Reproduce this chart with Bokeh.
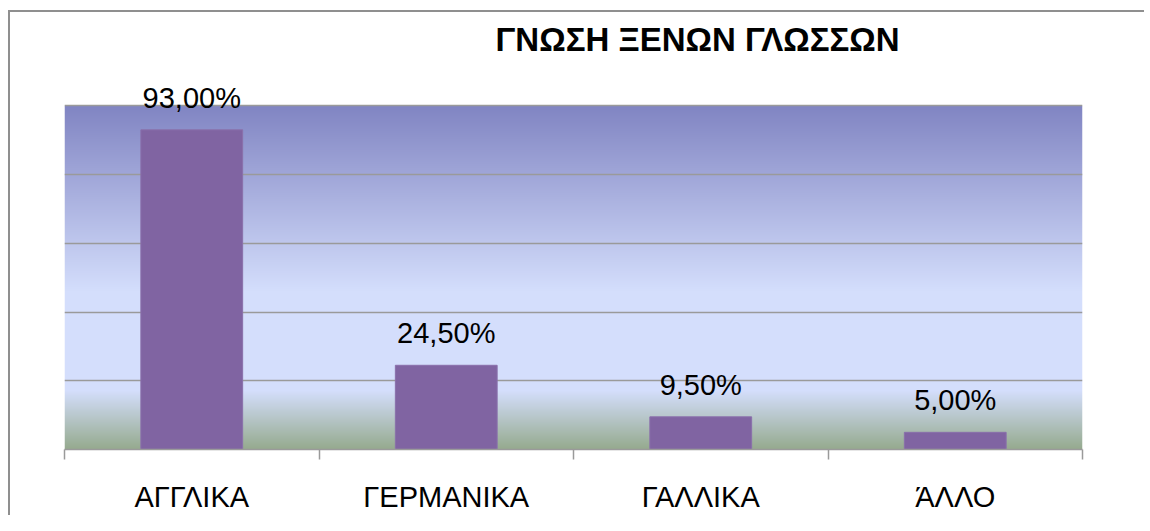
import numpy as np
from bokeh.plotting import figure
from bokeh.models import ColumnDataSource, FixedTicker, Range1d, LabelSet
from bokeh.core.properties import value
from bokeh.embed import file_html
from bokeh.resources import INLINE

# ---- data ----
categories = ["ΑΓΓΛΙΚΑ", "ΓΕΡΜΑΝΙΚΑ", "ΓΑΛΛΙΚΑ", "ΆΛΛΟ"]
values = [93.0, 24.5, 9.5, 5.0]
y_ticks = [0, 20, 40, 60, 80, 100]
title_text = "ΓΝΩΣΗ ΞΕΝΩΝ ΓΛΩΣΣΩΝ"

centers = [i + 0.5 for i in range(len(categories))]
bounds = list(range(len(categories) + 1))
labels = [f"{v:.2f}".replace(".", ",") + "%" for v in values]

src = ColumnDataSource(dict(x=centers, top=values, label=labels))

p = figure(width=1136, height=505, output_backend="svg", toolbar_location=None,
           x_range=Range1d(0, len(categories)), y_range=Range1d(0, 112),
           min_border_left=54, min_border_right=64, min_border_top=10, min_border_bottom=68)
p.styles = {"box-shadow": "-2px -2px 0px 0px #8f8f8f", "background-color": "#ffffff",
            "margin-left": "10px", "margin-top": "12px"}

# gradient background of the plot area (styling)
stops_v = [0, 17, 46, 100]
stops_c = np.array([[0x95, 0xaa, 0x8e], [0xd4, 0xde, 0xfc], [0xd4, 0xde, 0xfc], [0x80, 0x84, 0xc2]], dtype=float)
N = 345
ys = (np.arange(N) + 0.5) / N * 100
img = np.empty((N, 1), dtype=np.uint32)
view = img.view(dtype=np.uint8).reshape((N, 1, 4))
for k in range(3):
    view[:, 0, k] = np.interp(ys, stops_v, stops_c[:, k]).round().astype(np.uint8)
view[:, 0, 3] = 255
p.image_rgba(image=[img], x=0, y=0, dw=len(categories), dh=100, level="image")

p.vbar(x="x", top="top", width=0.4, source=src, fill_color="#8064a2", line_color="#8a70ab", line_width=1)

p.add_layout(LabelSet(x="x", y="top", text="label", source=src, text_align="center",
                      text_baseline="alphabetic", y_offset=22, text_font=value("Liberation Sans"),
                      text_font_size="29px", text_color="#000000"))

# grid
p.xgrid.visible = False
p.ygrid.ticker = FixedTicker(ticks=y_ticks)
p.ygrid.grid_line_color = "#9a9a9a"
p.ygrid.grid_line_width = 1.5
p.yaxis.visible = False
p.outline_line_color = None

# x axis
p.xaxis.ticker = FixedTicker(ticks=centers, minor_ticks=bounds)
p.xaxis.major_label_overrides = {c: n for c, n in zip(centers, categories)}
p.xaxis.major_tick_out = 0
p.xaxis.major_tick_in = 0
p.xaxis.minor_tick_out = 10
p.xaxis.minor_tick_in = 0
p.xaxis.minor_tick_line_color = "#9a9a9a"
p.xaxis.minor_tick_line_width = 1.5
p.xaxis.axis_line_color = "#9a9a9a"
p.xaxis.axis_line_width = 1.5
p.xaxis.major_label_standoff = 21
p.xaxis.major_label_text_font = "Liberation Sans"
p.xaxis.major_label_text_font_size = "29px"
p.xaxis.major_label_text_color = "#000000"

# title
p.title.text = title_text
p.title.align = "left"
p.title.vertical_align = "bottom"
p.title.offset = 431
p.title.standoff = 13
p.title.text_font = "Liberation Sans"
p.title.text_font_style = "bold"
p.title.text_font_size = "33px"
p.title.text_color = "#000000"

p.background_fill_color = "#ffffff"
p.border_fill_color = "#ffffff"

open("out.html", "w").write(file_html(p, INLINE))
